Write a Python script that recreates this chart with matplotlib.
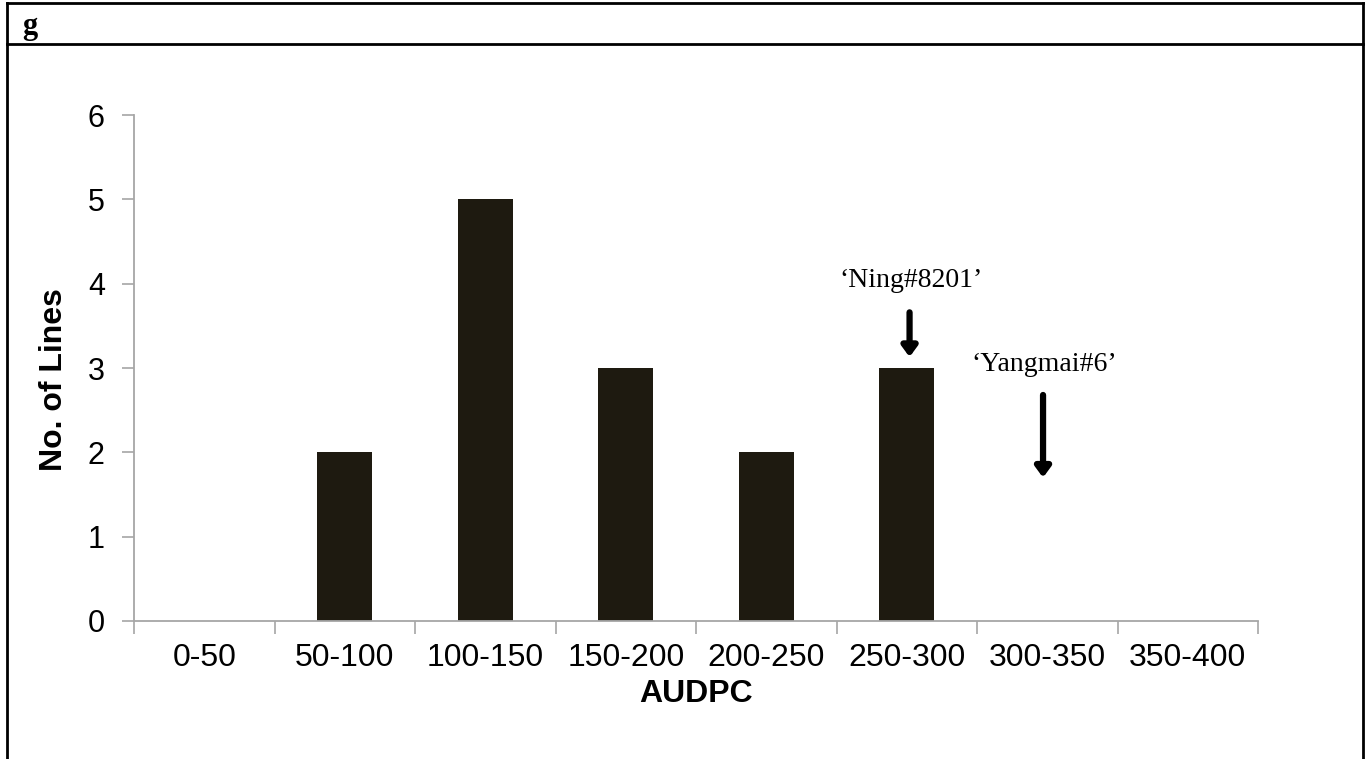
import matplotlib
matplotlib.use("Agg")
import matplotlib.pyplot as plt
from matplotlib.lines import Line2D

categories = ["0-50", "50-100", "100-150", "150-200", "200-250", "250-300", "300-350", "350-400"]
counts = [0, 2, 5, 3, 2, 3, 0, 0]
y_ticks = [0, 1, 2, 3, 4, 5, 6]

ann_labels = ["\u2018Ning#8201\u2019", "\u2018Yangmai#6\u2019"]
ann_text_x = [5.03, 5.98]
ann_text_y = [3.96, 2.96]
ann_arrow_x = [5.02, 5.97]
ann_arrow_top = [3.66, 2.68]
ann_arrow_bottom = [3.13, 1.70]

W, H = 1370, 759
fig = plt.figure(figsize=(W / 100, H / 100), dpi=100)
fig.patch.set_facecolor("white")

ax = fig.add_axes([134 / W, 1 - 621 / H, (1258 - 134) / W, (621 - 115) / H])
x = list(range(len(categories)))
ax.bar(x, counts, width=0.39, color="#1e1a10", zorder=2)
ax.set_xlim(-0.5, len(categories) - 0.5)
ax.set_ylim(0, 6)
ax.set_yticks(y_ticks)
ax.set_yticklabels([str(v) for v in y_ticks], fontfamily="Liberation Sans", fontsize=22)
ax.set_xticks(x)
ax.set_xticklabels(categories, fontfamily="Liberation Sans", fontsize=23)
ax.set_xticks([i - 0.5 for i in range(len(categories) + 1)], minor=True)
ax.tick_params(axis="x", which="major", length=0, pad=16)
ax.tick_params(axis="x", which="minor", length=9, color="#a6a6a6", width=1.2)
ax.tick_params(axis="y", length=9, color="#a6a6a6", width=1.2, pad=12)
for s in ["top", "right"]:
    ax.spines[s].set_visible(False)
for s in ["left", "bottom"]:
    ax.spines[s].set_color("#a6a6a6")
    ax.spines[s].set_linewidth(1.3)
ax.set_xlabel("AUDPC", fontfamily="Liberation Sans", fontsize=23, fontweight="bold", labelpad=4)
ax.set_ylabel("No. of Lines", fontfamily="Liberation Sans", fontsize=23, fontweight="bold")
ax.yaxis.set_label_coords(-0.058, 0.478)

for lab, tx, ty in zip(ann_labels, ann_text_x, ann_text_y):
    ax.text(tx, ty, lab, ha="center", va="baseline", fontfamily="Liberation Serif", fontsize=20)
for ax_x, at, ab in zip(ann_arrow_x, ann_arrow_top, ann_arrow_bottom):
    ax.annotate("", xy=(ax_x, ab), xytext=(ax_x, at),
                arrowprops=dict(arrowstyle="-|>,head_length=0.3,head_width=0.22", mutation_scale=20,
                                color="black", lw=4.5, shrinkA=0, shrinkB=0))

# table frame
fig.add_artist(Line2D([7 / W, 1363 / W], [1 - 2.5 / H, 1 - 2.5 / H], color="black", lw=2, transform=fig.transFigure))
fig.add_artist(Line2D([7 / W, 1363 / W], [1 - 43.5 / H, 1 - 43.5 / H], color="black", lw=2, transform=fig.transFigure))
fig.add_artist(Line2D([7 / W, 7 / W], [0, 1 - 2.5 / H], color="black", lw=2, transform=fig.transFigure))
fig.add_artist(Line2D([1362.5 / W, 1362.5 / W], [0, 1 - 2.5 / H], color="black", lw=2, transform=fig.transFigure))
fig.text(22 / W, 1 - 34 / H, "g", fontfamily="Liberation Serif", fontweight="bold", fontsize=22, va="baseline")

fig.savefig("out.png", dpi=100, facecolor="white")
